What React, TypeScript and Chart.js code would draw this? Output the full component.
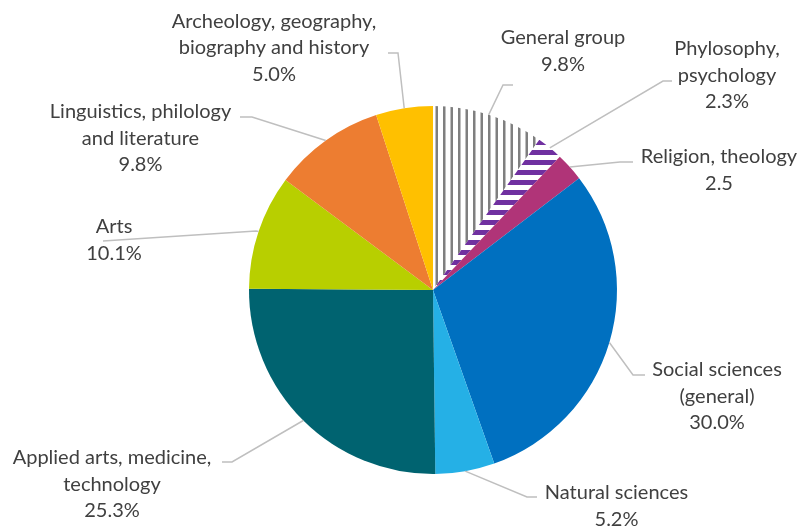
import React, { useEffect, useRef } from "react";
import { Chart, registerables } from "chart.js";

Chart.register(...registerables);

// ---- data ----
const categories: string[][] = [
  ["General group"],
  ["Phylosophy,", "psychology"],
  ["Religion, theology"],
  ["Social sciences", "(general)"],
  ["Natural sciences"],
  ["Applied arts, medicine,", "technology"],
  ["Arts"],
  ["Linguistics, philology", "and literature"],
  ["Archeology, geography,", "biography and history"],
];
const shares: number[] = [9.8, 2.3, 2.5, 30.0, 5.2, 25.3, 10.1, 9.8, 5.0];
const valueLabels: string[] = ["9.8%", "2.3%", "2.5", "30.0%", "5.2%", "25.3%", "10.1%", "9.8%", "5.0%"];

// ---- layout (offsets from pie centre) ----
const labelCenter: [number, number][] = [
  [130, -252], [294, -241], [286, -133], [284, 80], [183.5, 203],
  [-321, 168], [-319, -63], [-292.5, -178], [-159, -268.5],
];
const elbowPt: [number, number][] = [
  [70, -205], [230, -209], [187, -128], [200, 85], [94, 207],
  [-201, 172], [-177, -59], [-181, -173], [-35, -237],
];
const endPt: [number, number][] = [
  [80, -205], [239, -209], [200, -128], [212, 85], [104, 207],
  [-211, 172], [-330, -49], [-193, -173], [-45, -237],
];

const FONT = "20px Lato";
const LINE_H = 26.5;
const TEXT_COLOR = "#404040";
const LEADER_COLOR = "#BFBFBF";

function makeVertPattern(): CanvasPattern | string {
  const c = document.createElement("canvas");
  c.width = 15; c.height = 15;
  const g = c.getContext("2d");
  if (!g) return "#fff";
  g.fillStyle = "#ffffff"; g.fillRect(0, 0, 15, 15);
  g.fillStyle = "#7f7f7f";
  g.fillRect(0.5, 0, 2.5, 15);
  g.fillRect(8, 0, 2.5, 15);
  return g.createPattern(c, "repeat") as CanvasPattern;
}
function makeHorzPattern(): CanvasPattern | string {
  const c = document.createElement("canvas");
  c.width = 10; c.height = 10;
  const g = c.getContext("2d");
  if (!g) return "#7030A0";
  g.fillStyle = "#ffffff"; g.fillRect(0, 0, 10, 10);
  g.fillStyle = "#7030A0"; g.fillRect(0, 0, 10, 5);
  return g.createPattern(c, "repeat") as CanvasPattern;
}

const labelPlugin = {
  id: "excelLabels",
  afterDatasetsDraw(chart: any) {
    const ctx = chart.ctx as CanvasRenderingContext2D;
    const meta = chart.getDatasetMeta(0);
    meta.data.forEach((arc: any, i: number) => {
      const p = arc.getProps(["x", "y", "startAngle", "endAngle", "outerRadius"], true);
      const mid = (p.startAngle + p.endAngle) / 2;
      const ex = p.x + Math.cos(mid) * p.outerRadius;
      const ey = p.y + Math.sin(mid) * p.outerRadius;
      ctx.save();
      ctx.strokeStyle = LEADER_COLOR;
      ctx.lineWidth = 1.5;
      ctx.beginPath();
      ctx.moveTo(ex, ey);
      ctx.lineTo(p.x + elbowPt[i][0], p.y + elbowPt[i][1]);
      ctx.lineTo(p.x + endPt[i][0], p.y + endPt[i][1]);
      ctx.stroke();
      ctx.fillStyle = TEXT_COLOR;
      ctx.font = FONT;
      ctx.textAlign = "center";
      ctx.textBaseline = "middle";
      const lines = [...categories[i], valueLabels[i]];
      lines.forEach((t, k) => {
        ctx.fillText(t, p.x + labelCenter[i][0], p.y + labelCenter[i][1] + k * LINE_H);
      });
      ctx.restore();
    });
  },
};

export default function App() {
  const ref = useRef<HTMLCanvasElement>(null);
  useEffect(() => {
    document.body.style.margin = "0";
    if (!ref.current) return;
    const colors: (CanvasPattern | string)[] = [
      makeVertPattern(), makeHorzPattern(), "#B03478", "#0070C0", "#25B0E6",
      "#006370", "#B8CF00", "#ED7D31", "#FFC000",
    ];
    const chart = new Chart(ref.current, {
      type: "pie",
      data: {
        labels: categories.map((c) => c.join(" ")),
        datasets: [{ data: shares, backgroundColor: colors as any, borderWidth: 0 }],
      },
      options: {
        responsive: false,
        animation: false,
        layout: { padding: { top: 106, bottom: 53, left: 249, right: 185 } },
        plugins: { legend: { display: false }, tooltip: { enabled: false } },
      },
      plugins: [labelPlugin],
    });
    return () => chart.destroy();
  }, []);
  return (
    <div style={{ width: 802, height: 527 }}>
      <canvas ref={ref} width={802} height={527} style={{ display: "block" }} />
    </div>
  );
}
